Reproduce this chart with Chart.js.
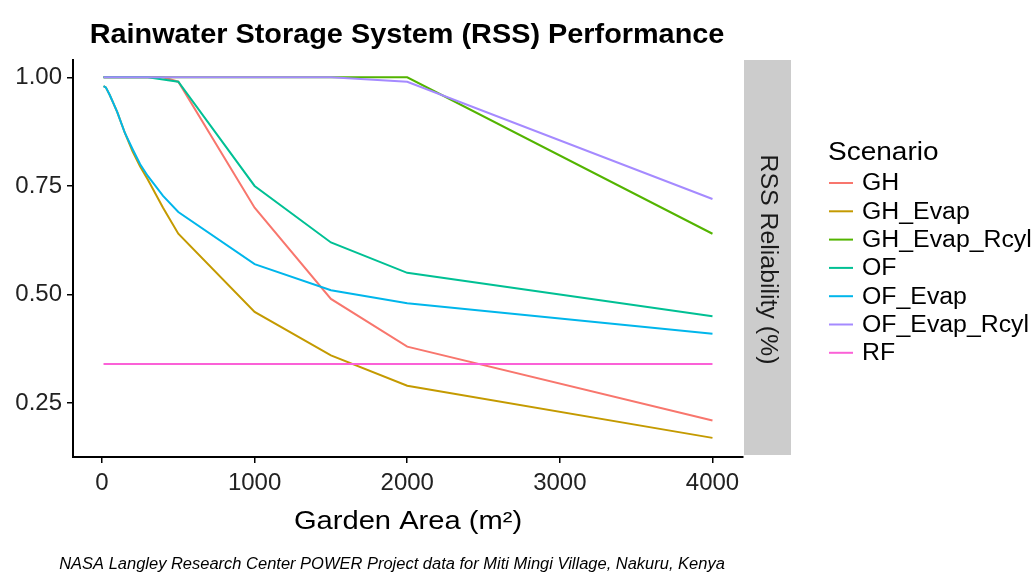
<!DOCTYPE html>
<html>
<head>
<meta charset="utf-8">
<script src="https://cdn.jsdelivr.net/npm/chart.js@4.4.0/dist/chart.umd.min.js"></script>
<style>
  html, body { margin: 0; padding: 0; background: #fff; }
  canvas { display: block; }
</style>
</head>
<body>
<canvas id="rssChart" width="1035" height="579"></canvas>
<script>
// Garden area (m2) at which each scenario was evaluated
var gardenArea = [10, 25, 50, 75, 100, 150, 200, 250, 300, 400, 500, 1000, 1500, 2000, 4000];

// RSS reliability per scenario
var ghData         = [1, 1, 1, 1, 1, 1, 1, 1, 1, 1, 0.99, 0.70, 0.49, 0.38, 0.21];
var ghEvapData     = [0.98, 0.977, 0.96, 0.94, 0.92, 0.872, 0.83, 0.795, 0.765, 0.70, 0.64, 0.46, 0.36, 0.29, 0.17];
var ghEvapRcylData = [1, 1, 1, 1, 1, 1, 1, 1, 1, 1, 1, 1, 1, 1, 0.64];
var ofData         = [1, 1, 1, 1, 1, 1, 1, 1, 1, 0.995, 0.99, 0.75, 0.62, 0.55, 0.45];
var ofEvapData     = [0.98, 0.977, 0.96, 0.94, 0.92, 0.872, 0.835, 0.80, 0.773, 0.727, 0.69, 0.57, 0.51, 0.48, 0.41];
var ofEvapRcylData = [1, 1, 1, 1, 1, 1, 1, 1, 1, 1, 1, 1, 1, 0.99, 0.72];
var rfData         = [0.34, 0.34, 0.34, 0.34, 0.34, 0.34, 0.34, 0.34, 0.34, 0.34, 0.34, 0.34, 0.34, 0.34, 0.34];

var scenarios = ['GH', 'GH_Evap', 'GH_Evap_Rcyl', 'OF', 'OF_Evap', 'OF_Evap_Rcyl', 'RF'];
var seriesValues = [ghData, ghEvapData, ghEvapRcylData, ofData, ofEvapData, ofEvapRcylData, rfData];

var xTicks = [0, 1000, 2000, 3000, 4000];
var yTicks = [0.25, 0.50, 0.75, 1.00];

// ggplot default hue palette
var colores = ['#F8766D', '#C49A00', '#53B400', '#00C094', '#00B6EB', '#A58AFF', '#FB61D7'];
var fuente = '"Liberation Sans", Arial, sans-serif';

var datasets = scenarios.map(function (nombre, i) {
    return {
        label: nombre,
        data: gardenArea.map(function (x, j) { return { x: x, y: seriesValues[i][j] }; }),
        borderColor: colores[i],
        backgroundColor: colores[i],
        borderWidth: 2,
        pointRadius: 0,
        tension: 0,
        fill: false,
        order: scenarios.length - i   // later series on top, like ggplot
    };
});

// the original figure is a bit stretched sideways, so text gets a horizontal scale
function texto(c, str, x, y, sx) {
    c.save();
    c.translate(x, y);
    c.scale(sx, 1);
    c.fillText(str, 0, 0);
    c.restore();
}

// strip, legend and text around the panel
var extras = {
    id: 'extras',
    afterDraw: function (chart) {
        var c = chart.ctx;
        var a = chart.chartArea;
        c.save();

        // facet strip on the right
        c.fillStyle = '#cccccc';
        c.fillRect(a.right + 1, a.top, 47, a.bottom - a.top - 2);
        c.save();
        c.translate(a.right + 24.5, (a.top + a.bottom) / 2 + 1);
        c.rotate(Math.PI / 2);
        c.fillStyle = '#1a1a1a';
        c.font = '23px ' + fuente;
        c.textAlign = 'center';
        c.textBaseline = 'middle';
        texto(c, 'RSS Reliability (%)', 0, 0, 1.08);
        c.restore();

        // title
        c.fillStyle = '#000';
        c.font = 'bold 28px ' + fuente;
        c.textAlign = 'center';
        c.textBaseline = 'middle';
        texto(c, 'Rainwater Storage System (RSS) Performance', 407, 35, 1.03);

        // x axis title
        c.font = '26px ' + fuente;
        texto(c, 'Garden Area (m\u00B2)', (a.left + a.right) / 2, 522, 1.12);

        // caption
        c.font = 'italic 16px ' + fuente;
        texto(c, 'NASA Langley Research Center POWER Project data for Miti Mingi Village, Nakuru, Kenya', 392, 565, 1.03);

        // legend
        c.textAlign = 'left';
        c.textBaseline = 'alphabetic';
        c.font = '25px ' + fuente;
        texto(c, 'Scenario', 828, 160, 1.12);
        c.font = '23px ' + fuente;
        c.textBaseline = 'middle';
        scenarios.forEach(function (nombre, i) {
            var y = 183 + i * 28.3;
            c.strokeStyle = colores[i];
            c.lineWidth = 2;
            c.beginPath();
            c.moveTo(829, y);
            c.lineTo(853, y);
            c.stroke();
            c.fillStyle = '#000';
            texto(c, nombre, 862, y + 1, 1.08);
        });
        c.restore();
    }
};

var ctxRss = document.getElementById('rssChart').getContext('2d');
var rssChart = new Chart(ctxRss, {
    type: 'line',
    data: { datasets: datasets },
    options: {
        responsive: false,
        animation: false,
        layout: { padding: { left: 0, right: 292, top: 60, bottom: 0 } },
        plugins: {
            legend: { display: false },
            title: { display: false },
            tooltip: { enabled: false }
        },
        scales: {
            x: {
                type: 'linear',
                min: -190,
                max: 4200,
                afterBuildTicks: function (s) { s.ticks = xTicks.map(function (v) { return { value: v }; }); },
                afterFit: function (s) { s.height = 122; },
                grid: { display: true, drawOnChartArea: false, drawTicks: true, tickLength: 6, tickColor: '#000', lineWidth: 1.5 },
                border: { display: true, color: '#000', width: 2 },
                ticks: {
                    color: '#222', padding: 6, maxRotation: 0, autoSkip: false,
                    font: { size: 24, family: fuente },
                    callback: function (v) { return String(v); }
                }
            },
            y: {
                type: 'linear',
                min: 0.126,
                max: 1.04,
                afterBuildTicks: function (s) { s.ticks = yTicks.map(function (v) { return { value: v }; }); },
                afterFit: function (s) { s.width = 73; },
                grid: { display: true, drawOnChartArea: false, drawTicks: true, tickLength: 6, tickColor: '#000', lineWidth: 1.5 },
                border: { display: true, color: '#000', width: 2 },
                ticks: {
                    color: '#222', padding: 5, autoSkip: false,
                    font: { size: 24, family: fuente },
                    callback: function (v) { return Number(v).toFixed(2); }
                }
            }
        }
    },
    plugins: [extras]
});
</script>
</body>
</html>
